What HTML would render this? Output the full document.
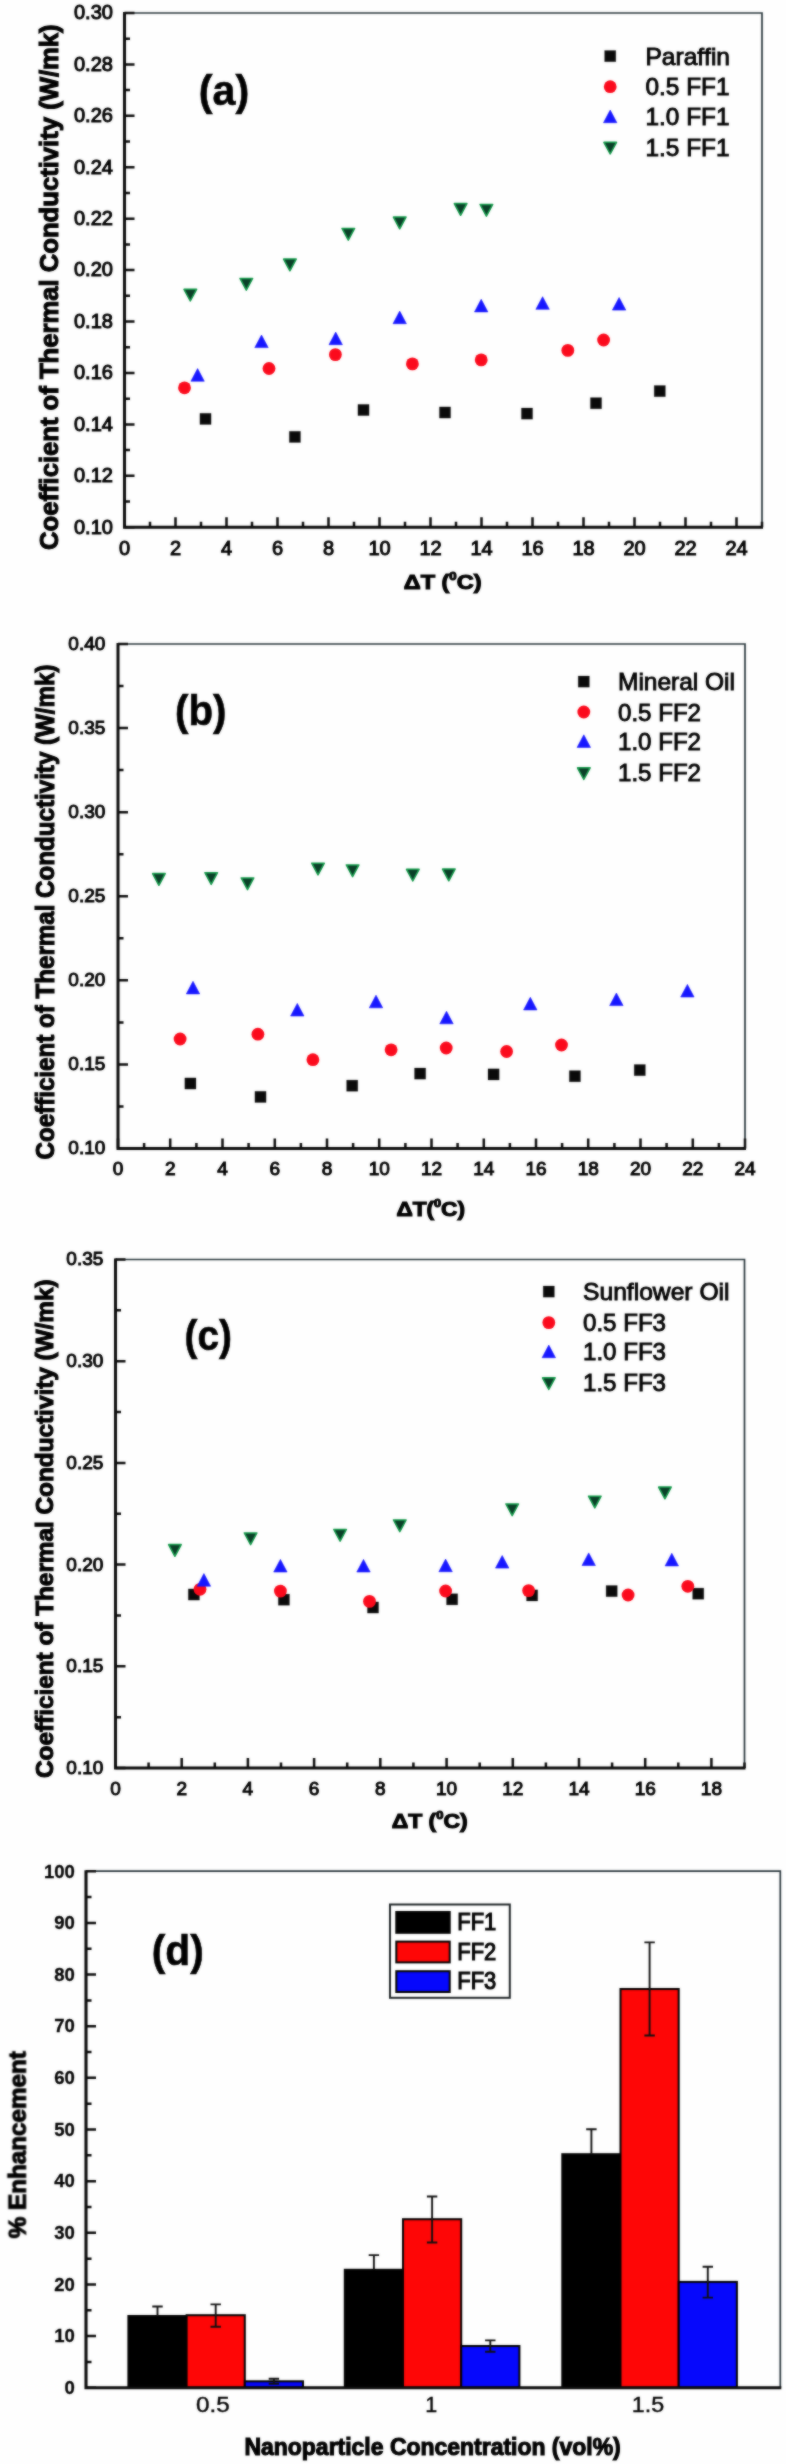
<!DOCTYPE html>
<html lang="en"><head><meta charset="utf-8"><title>Thermal conductivity figure</title>
<style>html,body{margin:0;padding:0;background:#fefefe}svg{display:block}text{font-kerning:none;font-variant-ligatures:none}</style></head>
<body>
<svg width="786" height="2464" viewBox="0 0 786 2464" font-family="Liberation Sans, sans-serif" fill="#000">
<defs><filter id="soft" x="0" y="0" width="786" height="2464" filterUnits="userSpaceOnUse" color-interpolation-filters="sRGB"><feGaussianBlur stdDeviation="0.8" result="b"/><feComposite in="SourceGraphic" in2="b" operator="arithmetic" k1="0" k2="0.45" k3="0.55" k4="0"/></filter></defs>
<rect width="786" height="2464" fill="#fefefe"/>
<g filter="url(#soft)">
<path d="M124.5,13 H762 V527.2" fill="none" stroke="#27343a" stroke-width="1.7"/>
<path d="M124.5,527.2 v-10 M150.0,527.2 v-5.5 M175.5,527.2 v-10 M201.0,527.2 v-5.5 M226.5,527.2 v-10 M252.0,527.2 v-5.5 M277.5,527.2 v-10 M303.0,527.2 v-5.5 M328.5,527.2 v-10 M354.0,527.2 v-5.5 M379.5,527.2 v-10 M405.0,527.2 v-5.5 M430.5,527.2 v-10 M456.0,527.2 v-5.5 M481.5,527.2 v-10 M507.0,527.2 v-5.5 M532.5,527.2 v-10 M558.0,527.2 v-5.5 M583.5,527.2 v-10 M609.0,527.2 v-5.5 M634.5,527.2 v-10 M660.0,527.2 v-5.5 M685.5,527.2 v-10 M711.0,527.2 v-5.5 M736.5,527.2 v-10 M762.0,527.2 v-5.5 M124.5,527.2 h10 M124.5,501.5 h5.5 M124.5,475.8 h10 M124.5,450.1 h5.5 M124.5,424.4 h10 M124.5,398.7 h5.5 M124.5,372.9 h10 M124.5,347.2 h5.5 M124.5,321.5 h10 M124.5,295.8 h5.5 M124.5,270.1 h10 M124.5,244.4 h5.5 M124.5,218.7 h10 M124.5,193.0 h5.5 M124.5,167.3 h10 M124.5,141.6 h5.5 M124.5,115.8 h10 M124.5,90.1 h5.5 M124.5,64.4 h10 M124.5,38.7 h5.5 M124.5,13.0 h10" fill="none" stroke="#0a0a0a" stroke-width="2.5"/>
<path d="M124.5,12 V527.2 H763" fill="none" stroke="#0a0a0a" stroke-width="3" stroke-linejoin="miter"/>
<text x="124.5" y="555.0" font-size="20" text-anchor="middle" stroke="#000" stroke-width="1.0">0</text>
<text x="175.5" y="555.0" font-size="20" text-anchor="middle" stroke="#000" stroke-width="1.0">2</text>
<text x="226.5" y="555.0" font-size="20" text-anchor="middle" stroke="#000" stroke-width="1.0">4</text>
<text x="277.5" y="555.0" font-size="20" text-anchor="middle" stroke="#000" stroke-width="1.0">6</text>
<text x="328.5" y="555.0" font-size="20" text-anchor="middle" stroke="#000" stroke-width="1.0">8</text>
<text x="379.5" y="555.0" font-size="20" text-anchor="middle" stroke="#000" stroke-width="1.0">10</text>
<text x="430.5" y="555.0" font-size="20" text-anchor="middle" stroke="#000" stroke-width="1.0">12</text>
<text x="481.5" y="555.0" font-size="20" text-anchor="middle" stroke="#000" stroke-width="1.0">14</text>
<text x="532.5" y="555.0" font-size="20" text-anchor="middle" stroke="#000" stroke-width="1.0">16</text>
<text x="583.5" y="555.0" font-size="20" text-anchor="middle" stroke="#000" stroke-width="1.0">18</text>
<text x="634.5" y="555.0" font-size="20" text-anchor="middle" stroke="#000" stroke-width="1.0">20</text>
<text x="685.5" y="555.0" font-size="20" text-anchor="middle" stroke="#000" stroke-width="1.0">22</text>
<text x="736.5" y="555.0" font-size="20" text-anchor="middle" stroke="#000" stroke-width="1.0">24</text>
<text x="112.9" y="533.5" font-size="20" text-anchor="end" stroke="#000" stroke-width="1.0">0.10</text>
<text x="112.9" y="482.1" font-size="20" text-anchor="end" stroke="#000" stroke-width="1.0">0.12</text>
<text x="112.9" y="430.7" font-size="20" text-anchor="end" stroke="#000" stroke-width="1.0">0.14</text>
<text x="112.9" y="379.2" font-size="20" text-anchor="end" stroke="#000" stroke-width="1.0">0.16</text>
<text x="112.9" y="327.8" font-size="20" text-anchor="end" stroke="#000" stroke-width="1.0">0.18</text>
<text x="112.9" y="276.4" font-size="20" text-anchor="end" stroke="#000" stroke-width="1.0">0.20</text>
<text x="112.9" y="225.0" font-size="20" text-anchor="end" stroke="#000" stroke-width="1.0">0.22</text>
<text x="112.9" y="173.6" font-size="20" text-anchor="end" stroke="#000" stroke-width="1.0">0.24</text>
<text x="112.9" y="122.1" font-size="20" text-anchor="end" stroke="#000" stroke-width="1.0">0.26</text>
<text x="112.9" y="70.7" font-size="20" text-anchor="end" stroke="#000" stroke-width="1.0">0.28</text>
<text x="112.9" y="19.3" font-size="20" text-anchor="end" stroke="#000" stroke-width="1.0">0.30</text>
<text x="403.8" y="588.7" font-size="20" font-weight="bold" stroke="#000" stroke-width="1.1" textLength="77.7" lengthAdjust="spacingAndGlyphs">ΔT (<tspan font-size="11.2" dy="-8.8">0</tspan><tspan dy="8.8">C)</tspan></text>
<text x="57.6" y="287.2" font-size="25.5" text-anchor="middle" font-weight="bold" textLength="525.6" lengthAdjust="spacingAndGlyphs" transform="rotate(-90 57.6 287.2)" stroke="#000" stroke-width="1.1">Coefficient of Thermal Conductivity (W/mk)</text>
<text x="198.8" y="105.0" font-size="42.5" text-anchor="start" font-weight="bold" textLength="50.5" lengthAdjust="spacingAndGlyphs" stroke="#000" stroke-width="0.6">(a)</text>
<rect x="604.6" y="50.5" width="11.2" height="11.2" fill="#0a0a0a" stroke="#0a0a0a" stroke-width="0.2" stroke-linejoin="round"/>
<text x="645.5" y="64.7" font-size="24" text-anchor="start" textLength="84.5" lengthAdjust="spacingAndGlyphs" stroke="#000" stroke-width="0.9">Paraffin</text>
<circle cx="610.2" cy="86.7" r="6.4" fill="#fb0a1c"/>
<text x="645.5" y="95.3" font-size="24" text-anchor="start" textLength="84.0" lengthAdjust="spacingAndGlyphs" stroke="#000" stroke-width="0.9">0.5 FF1</text>
<polygon points="603.5,122.7 616.9,122.7 610.2,110.1" fill="#1616ff" stroke="#1616ff" stroke-width="0.6" stroke-linejoin="round"/>
<text x="645.5" y="125.3" font-size="24" text-anchor="start" textLength="84.0" lengthAdjust="spacingAndGlyphs" stroke="#000" stroke-width="0.9">1.0 FF1</text>
<polygon points="603.9,142.3 616.5,142.3 610.2,154.0" fill="#0b3f28" stroke="#129a49" stroke-width="1.5" stroke-linejoin="round"/>
<text x="645.5" y="155.8" font-size="24" text-anchor="start" textLength="84.0" lengthAdjust="spacingAndGlyphs" stroke="#000" stroke-width="0.9">1.5 FF1</text>
<rect x="199.9" y="413.3" width="11.2" height="11.2" fill="#0a0a0a" stroke="#0a0a0a" stroke-width="0.2" stroke-linejoin="round"/>
<rect x="289.3" y="431.3" width="11.2" height="11.2" fill="#0a0a0a" stroke="#0a0a0a" stroke-width="0.2" stroke-linejoin="round"/>
<rect x="357.9" y="404.4" width="11.2" height="11.2" fill="#0a0a0a" stroke="#0a0a0a" stroke-width="0.2" stroke-linejoin="round"/>
<rect x="439.4" y="406.9" width="11.2" height="11.2" fill="#0a0a0a" stroke="#0a0a0a" stroke-width="0.2" stroke-linejoin="round"/>
<rect x="521.4" y="408.0" width="11.2" height="11.2" fill="#0a0a0a" stroke="#0a0a0a" stroke-width="0.2" stroke-linejoin="round"/>
<rect x="590.4" y="397.6" width="11.2" height="11.2" fill="#0a0a0a" stroke="#0a0a0a" stroke-width="0.2" stroke-linejoin="round"/>
<rect x="654.2" y="385.5" width="11.2" height="11.2" fill="#0a0a0a" stroke="#0a0a0a" stroke-width="0.2" stroke-linejoin="round"/>
<circle cx="184.5" cy="387.8" r="6.4" fill="#fb0a1c"/>
<circle cx="269.0" cy="368.5" r="6.4" fill="#fb0a1c"/>
<circle cx="335.4" cy="354.6" r="6.4" fill="#fb0a1c"/>
<circle cx="412.4" cy="363.9" r="6.4" fill="#fb0a1c"/>
<circle cx="481.2" cy="359.9" r="6.4" fill="#fb0a1c"/>
<circle cx="567.8" cy="350.4" r="6.4" fill="#fb0a1c"/>
<circle cx="603.6" cy="340.0" r="6.4" fill="#fb0a1c"/>
<polygon points="190.9,381.2 204.3,381.2 197.6,368.6" fill="#1616ff" stroke="#1616ff" stroke-width="0.6" stroke-linejoin="round"/>
<polygon points="254.8,347.6 268.2,347.6 261.5,335.0" fill="#1616ff" stroke="#1616ff" stroke-width="0.6" stroke-linejoin="round"/>
<polygon points="329.0,344.7 342.4,344.7 335.7,332.1" fill="#1616ff" stroke="#1616ff" stroke-width="0.6" stroke-linejoin="round"/>
<polygon points="393.0,323.7 406.4,323.7 399.7,311.1" fill="#1616ff" stroke="#1616ff" stroke-width="0.6" stroke-linejoin="round"/>
<polygon points="474.5,311.9 487.9,311.9 481.2,299.3" fill="#1616ff" stroke="#1616ff" stroke-width="0.6" stroke-linejoin="round"/>
<polygon points="535.9,309.3 549.3,309.3 542.6,296.7" fill="#1616ff" stroke="#1616ff" stroke-width="0.6" stroke-linejoin="round"/>
<polygon points="612.4,310.1 625.8,310.1 619.1,297.5" fill="#1616ff" stroke="#1616ff" stroke-width="0.6" stroke-linejoin="round"/>
<polygon points="184.0,289.3 196.6,289.3 190.3,301.0" fill="#0b3f28" stroke="#129a49" stroke-width="1.5" stroke-linejoin="round"/>
<polygon points="240.0,278.4 252.6,278.4 246.3,290.1" fill="#0b3f28" stroke="#129a49" stroke-width="1.5" stroke-linejoin="round"/>
<polygon points="283.6,259.1 296.2,259.1 289.9,270.8" fill="#0b3f28" stroke="#129a49" stroke-width="1.5" stroke-linejoin="round"/>
<polygon points="342.0,228.4 354.6,228.4 348.3,240.1" fill="#0b3f28" stroke="#129a49" stroke-width="1.5" stroke-linejoin="round"/>
<polygon points="393.4,217.1 406.0,217.1 399.7,228.8" fill="#0b3f28" stroke="#129a49" stroke-width="1.5" stroke-linejoin="round"/>
<polygon points="454.3,203.6 466.9,203.6 460.6,215.3" fill="#0b3f28" stroke="#129a49" stroke-width="1.5" stroke-linejoin="round"/>
<polygon points="480.1,204.5 492.7,204.5 486.4,216.2" fill="#0b3f28" stroke="#129a49" stroke-width="1.5" stroke-linejoin="round"/>
<path d="M118,644 H745 V1148.5" fill="none" stroke="#27343a" stroke-width="1.7"/>
<path d="M118.0,1148.5 v-10 M144.1,1148.5 v-5.5 M170.2,1148.5 v-10 M196.4,1148.5 v-5.5 M222.5,1148.5 v-10 M248.6,1148.5 v-5.5 M274.8,1148.5 v-10 M300.9,1148.5 v-5.5 M327.0,1148.5 v-10 M353.1,1148.5 v-5.5 M379.2,1148.5 v-10 M405.4,1148.5 v-5.5 M431.5,1148.5 v-10 M457.6,1148.5 v-5.5 M483.8,1148.5 v-10 M509.9,1148.5 v-5.5 M536.0,1148.5 v-10 M562.1,1148.5 v-5.5 M588.2,1148.5 v-10 M614.4,1148.5 v-5.5 M640.5,1148.5 v-10 M666.6,1148.5 v-5.5 M692.8,1148.5 v-10 M718.9,1148.5 v-5.5 M745.0,1148.5 v-10 M118,1148.5 h10 M118,1106.5 h5.5 M118,1064.4 h10 M118,1022.4 h5.5 M118,980.3 h10 M118,938.3 h5.5 M118,896.2 h10 M118,854.2 h5.5 M118,812.2 h10 M118,770.1 h5.5 M118,728.1 h10 M118,686.0 h5.5 M118,644.0 h10" fill="none" stroke="#0a0a0a" stroke-width="2.5"/>
<path d="M118,643 V1148.5 H746" fill="none" stroke="#0a0a0a" stroke-width="3" stroke-linejoin="miter"/>
<text x="118.0" y="1175.2" font-size="19" text-anchor="middle" stroke="#000" stroke-width="1.0">0</text>
<text x="170.2" y="1175.2" font-size="19" text-anchor="middle" stroke="#000" stroke-width="1.0">2</text>
<text x="222.5" y="1175.2" font-size="19" text-anchor="middle" stroke="#000" stroke-width="1.0">4</text>
<text x="274.8" y="1175.2" font-size="19" text-anchor="middle" stroke="#000" stroke-width="1.0">6</text>
<text x="327.0" y="1175.2" font-size="19" text-anchor="middle" stroke="#000" stroke-width="1.0">8</text>
<text x="379.2" y="1175.2" font-size="19" text-anchor="middle" stroke="#000" stroke-width="1.0">10</text>
<text x="431.5" y="1175.2" font-size="19" text-anchor="middle" stroke="#000" stroke-width="1.0">12</text>
<text x="483.8" y="1175.2" font-size="19" text-anchor="middle" stroke="#000" stroke-width="1.0">14</text>
<text x="536.0" y="1175.2" font-size="19" text-anchor="middle" stroke="#000" stroke-width="1.0">16</text>
<text x="588.2" y="1175.2" font-size="19" text-anchor="middle" stroke="#000" stroke-width="1.0">18</text>
<text x="640.5" y="1175.2" font-size="19" text-anchor="middle" stroke="#000" stroke-width="1.0">20</text>
<text x="692.8" y="1175.2" font-size="19" text-anchor="middle" stroke="#000" stroke-width="1.0">22</text>
<text x="745.0" y="1175.2" font-size="19" text-anchor="middle" stroke="#000" stroke-width="1.0">24</text>
<text x="105.3" y="1154.4" font-size="19" text-anchor="end" stroke="#000" stroke-width="1.0">0.10</text>
<text x="105.3" y="1070.4" font-size="19" text-anchor="end" stroke="#000" stroke-width="1.0">0.15</text>
<text x="105.3" y="986.3" font-size="19" text-anchor="end" stroke="#000" stroke-width="1.0">0.20</text>
<text x="105.3" y="902.2" font-size="19" text-anchor="end" stroke="#000" stroke-width="1.0">0.25</text>
<text x="105.3" y="818.1" font-size="19" text-anchor="end" stroke="#000" stroke-width="1.0">0.30</text>
<text x="105.3" y="734.0" font-size="19" text-anchor="end" stroke="#000" stroke-width="1.0">0.35</text>
<text x="105.3" y="649.9" font-size="19" text-anchor="end" stroke="#000" stroke-width="1.0">0.40</text>
<text x="396.4" y="1216.2" font-size="20" font-weight="bold" stroke="#000" stroke-width="1.1" textLength="68.6" lengthAdjust="spacingAndGlyphs">ΔT(<tspan font-size="11.2" dy="-8.8">0</tspan><tspan dy="8.8">C)</tspan></text>
<text x="54.2" y="912.0" font-size="25" text-anchor="middle" font-weight="bold" textLength="495.0" lengthAdjust="spacingAndGlyphs" transform="rotate(-90 54.2 912.0)" stroke="#000" stroke-width="1.1">Coefficient of Thermal Conductivity (W/mk)</text>
<text x="175.0" y="724.8" font-size="42.5" text-anchor="start" font-weight="bold" textLength="51.5" lengthAdjust="spacingAndGlyphs" stroke="#000" stroke-width="0.6">(b)</text>
<rect x="578.2" y="676.0" width="11.2" height="11.2" fill="#0a0a0a" stroke="#0a0a0a" stroke-width="0.2" stroke-linejoin="round"/>
<text x="618.0" y="690.2" font-size="24" text-anchor="start" textLength="117.0" lengthAdjust="spacingAndGlyphs" stroke="#000" stroke-width="0.9">Mineral Oil</text>
<circle cx="583.8" cy="712.0" r="6.4" fill="#fb0a1c"/>
<text x="618.0" y="720.6" font-size="24" text-anchor="start" textLength="83.0" lengthAdjust="spacingAndGlyphs" stroke="#000" stroke-width="0.9">0.5 FF2</text>
<polygon points="577.1,747.4 590.5,747.4 583.8,734.8" fill="#1616ff" stroke="#1616ff" stroke-width="0.6" stroke-linejoin="round"/>
<text x="618.0" y="750.0" font-size="24" text-anchor="start" textLength="83.0" lengthAdjust="spacingAndGlyphs" stroke="#000" stroke-width="0.9">1.0 FF2</text>
<polygon points="577.5,767.8 590.1,767.8 583.8,779.5" fill="#0b3f28" stroke="#129a49" stroke-width="1.5" stroke-linejoin="round"/>
<text x="618.0" y="781.3" font-size="24" text-anchor="start" textLength="83.0" lengthAdjust="spacingAndGlyphs" stroke="#000" stroke-width="0.9">1.5 FF2</text>
<rect x="184.8" y="1077.9" width="11.2" height="11.2" fill="#0a0a0a" stroke="#0a0a0a" stroke-width="0.2" stroke-linejoin="round"/>
<rect x="254.9" y="1091.3" width="11.2" height="11.2" fill="#0a0a0a" stroke="#0a0a0a" stroke-width="0.2" stroke-linejoin="round"/>
<rect x="346.6" y="1080.1" width="11.2" height="11.2" fill="#0a0a0a" stroke="#0a0a0a" stroke-width="0.2" stroke-linejoin="round"/>
<rect x="414.5" y="1068.0" width="11.2" height="11.2" fill="#0a0a0a" stroke="#0a0a0a" stroke-width="0.2" stroke-linejoin="round"/>
<rect x="488.0" y="1068.8" width="11.2" height="11.2" fill="#0a0a0a" stroke="#0a0a0a" stroke-width="0.2" stroke-linejoin="round"/>
<rect x="569.3" y="1070.6" width="11.2" height="11.2" fill="#0a0a0a" stroke="#0a0a0a" stroke-width="0.2" stroke-linejoin="round"/>
<rect x="634.2" y="1064.5" width="11.2" height="11.2" fill="#0a0a0a" stroke="#0a0a0a" stroke-width="0.2" stroke-linejoin="round"/>
<circle cx="180.1" cy="1039.0" r="6.4" fill="#fb0a1c"/>
<circle cx="257.9" cy="1034.2" r="6.4" fill="#fb0a1c"/>
<circle cx="312.9" cy="1059.7" r="6.4" fill="#fb0a1c"/>
<circle cx="391.1" cy="1049.8" r="6.4" fill="#fb0a1c"/>
<circle cx="446.2" cy="1048.0" r="6.4" fill="#fb0a1c"/>
<circle cx="506.6" cy="1051.5" r="6.4" fill="#fb0a1c"/>
<circle cx="561.5" cy="1045.0" r="6.4" fill="#fb0a1c"/>
<polygon points="186.3,993.9 199.7,993.9 193.0,981.3" fill="#1616ff" stroke="#1616ff" stroke-width="0.6" stroke-linejoin="round"/>
<polygon points="290.6,1016.0 304.0,1016.0 297.3,1003.4" fill="#1616ff" stroke="#1616ff" stroke-width="0.6" stroke-linejoin="round"/>
<polygon points="369.3,1007.8 382.7,1007.8 376.0,995.2" fill="#1616ff" stroke="#1616ff" stroke-width="0.6" stroke-linejoin="round"/>
<polygon points="439.8,1023.8 453.2,1023.8 446.5,1011.2" fill="#1616ff" stroke="#1616ff" stroke-width="0.6" stroke-linejoin="round"/>
<polygon points="523.6,1009.9 537.0,1009.9 530.3,997.3" fill="#1616ff" stroke="#1616ff" stroke-width="0.6" stroke-linejoin="round"/>
<polygon points="609.7,1005.6 623.1,1005.6 616.4,993.0" fill="#1616ff" stroke="#1616ff" stroke-width="0.6" stroke-linejoin="round"/>
<polygon points="680.7,997.0 694.1,997.0 687.4,984.4" fill="#1616ff" stroke="#1616ff" stroke-width="0.6" stroke-linejoin="round"/>
<polygon points="152.6,873.6 165.2,873.6 158.9,885.3" fill="#0b3f28" stroke="#129a49" stroke-width="1.5" stroke-linejoin="round"/>
<polygon points="204.9,872.7 217.5,872.7 211.2,884.4" fill="#0b3f28" stroke="#129a49" stroke-width="1.5" stroke-linejoin="round"/>
<polygon points="241.2,877.9 253.8,877.9 247.5,889.6" fill="#0b3f28" stroke="#129a49" stroke-width="1.5" stroke-linejoin="round"/>
<polygon points="311.7,863.2 324.3,863.2 318.0,874.9" fill="#0b3f28" stroke="#129a49" stroke-width="1.5" stroke-linejoin="round"/>
<polygon points="346.3,864.9 358.9,864.9 352.6,876.6" fill="#0b3f28" stroke="#129a49" stroke-width="1.5" stroke-linejoin="round"/>
<polygon points="406.5,869.3 419.1,869.3 412.8,881.0" fill="#0b3f28" stroke="#129a49" stroke-width="1.5" stroke-linejoin="round"/>
<polygon points="442.5,869.1 455.1,869.1 448.8,880.8" fill="#0b3f28" stroke="#129a49" stroke-width="1.5" stroke-linejoin="round"/>
<path d="M115.5,1259.5 H744.5 V1768" fill="none" stroke="#27343a" stroke-width="1.7"/>
<path d="M115.5,1768 v-10 M148.6,1768 v-5.5 M181.7,1768 v-10 M214.8,1768 v-5.5 M247.9,1768 v-10 M281.0,1768 v-5.5 M314.1,1768 v-10 M347.2,1768 v-5.5 M380.3,1768 v-10 M413.4,1768 v-5.5 M446.6,1768 v-10 M479.7,1768 v-5.5 M512.8,1768 v-10 M545.9,1768 v-5.5 M579.0,1768 v-10 M612.1,1768 v-5.5 M645.2,1768 v-10 M678.3,1768 v-5.5 M711.4,1768 v-10 M744.5,1768 v-5.5 M115.5,1768.0 h10 M115.5,1717.2 h5.5 M115.5,1666.3 h10 M115.5,1615.5 h5.5 M115.5,1564.6 h10 M115.5,1513.8 h5.5 M115.5,1462.9 h10 M115.5,1412.0 h5.5 M115.5,1361.2 h10 M115.5,1310.3 h5.5 M115.5,1259.5 h10" fill="none" stroke="#0a0a0a" stroke-width="2.5"/>
<path d="M115.5,1258.5 V1768 H745.5" fill="none" stroke="#0a0a0a" stroke-width="3" stroke-linejoin="miter"/>
<text x="115.5" y="1794.8" font-size="19" text-anchor="middle" stroke="#000" stroke-width="1.0">0</text>
<text x="181.7" y="1794.8" font-size="19" text-anchor="middle" stroke="#000" stroke-width="1.0">2</text>
<text x="247.9" y="1794.8" font-size="19" text-anchor="middle" stroke="#000" stroke-width="1.0">4</text>
<text x="314.1" y="1794.8" font-size="19" text-anchor="middle" stroke="#000" stroke-width="1.0">6</text>
<text x="380.3" y="1794.8" font-size="19" text-anchor="middle" stroke="#000" stroke-width="1.0">8</text>
<text x="446.6" y="1794.8" font-size="19" text-anchor="middle" stroke="#000" stroke-width="1.0">10</text>
<text x="512.8" y="1794.8" font-size="19" text-anchor="middle" stroke="#000" stroke-width="1.0">12</text>
<text x="579.0" y="1794.8" font-size="19" text-anchor="middle" stroke="#000" stroke-width="1.0">14</text>
<text x="645.2" y="1794.8" font-size="19" text-anchor="middle" stroke="#000" stroke-width="1.0">16</text>
<text x="711.4" y="1794.8" font-size="19" text-anchor="middle" stroke="#000" stroke-width="1.0">18</text>
<text x="103.3" y="1773.9" font-size="19" text-anchor="end" stroke="#000" stroke-width="1.0">0.10</text>
<text x="103.3" y="1672.2" font-size="19" text-anchor="end" stroke="#000" stroke-width="1.0">0.15</text>
<text x="103.3" y="1570.5" font-size="19" text-anchor="end" stroke="#000" stroke-width="1.0">0.20</text>
<text x="103.3" y="1468.8" font-size="19" text-anchor="end" stroke="#000" stroke-width="1.0">0.25</text>
<text x="103.3" y="1367.1" font-size="19" text-anchor="end" stroke="#000" stroke-width="1.0">0.30</text>
<text x="103.3" y="1265.4" font-size="19" text-anchor="end" stroke="#000" stroke-width="1.0">0.35</text>
<text x="391.7" y="1828.0" font-size="20" font-weight="bold" stroke="#000" stroke-width="1.1" textLength="76.0" lengthAdjust="spacingAndGlyphs">ΔT (<tspan font-size="11.2" dy="-8.8">0</tspan><tspan dy="8.8">C)</tspan></text>
<text x="52.6" y="1528.7" font-size="24.5" text-anchor="middle" font-weight="bold" textLength="498.6" lengthAdjust="spacingAndGlyphs" transform="rotate(-90 52.6 1528.7)" stroke="#000" stroke-width="1.1">Coefficient of Thermal Conductivity (W/mk)</text>
<text x="184.5" y="1350.4" font-size="42.5" text-anchor="start" font-weight="bold" textLength="47.5" lengthAdjust="spacingAndGlyphs" stroke="#000" stroke-width="0.6">(c)</text>
<rect x="543.2" y="1286.0" width="11.2" height="11.2" fill="#0a0a0a" stroke="#0a0a0a" stroke-width="0.2" stroke-linejoin="round"/>
<text x="583.0" y="1300.2" font-size="24" text-anchor="start" textLength="146.5" lengthAdjust="spacingAndGlyphs" stroke="#000" stroke-width="0.9">Sunflower Oil</text>
<circle cx="548.8" cy="1322.6" r="6.4" fill="#fb0a1c"/>
<text x="583.0" y="1331.2" font-size="24" text-anchor="start" textLength="83.0" lengthAdjust="spacingAndGlyphs" stroke="#000" stroke-width="0.9">0.5 FF3</text>
<polygon points="542.1,1357.7 555.5,1357.7 548.8,1345.1" fill="#1616ff" stroke="#1616ff" stroke-width="0.6" stroke-linejoin="round"/>
<text x="583.0" y="1360.3" font-size="24" text-anchor="start" textLength="83.0" lengthAdjust="spacingAndGlyphs" stroke="#000" stroke-width="0.9">1.0 FF3</text>
<polygon points="542.5,1377.8 555.1,1377.8 548.8,1389.5" fill="#0b3f28" stroke="#129a49" stroke-width="1.5" stroke-linejoin="round"/>
<text x="583.0" y="1391.3" font-size="24" text-anchor="start" textLength="83.0" lengthAdjust="spacingAndGlyphs" stroke="#000" stroke-width="0.9">1.5 FF3</text>
<rect x="188.3" y="1588.9" width="11.2" height="11.2" fill="#0a0a0a" stroke="#0a0a0a" stroke-width="0.2" stroke-linejoin="round"/>
<rect x="278.3" y="1594.1" width="11.2" height="11.2" fill="#0a0a0a" stroke="#0a0a0a" stroke-width="0.2" stroke-linejoin="round"/>
<rect x="367.4" y="1601.9" width="11.2" height="11.2" fill="#0a0a0a" stroke="#0a0a0a" stroke-width="0.2" stroke-linejoin="round"/>
<rect x="446.5" y="1593.7" width="11.2" height="11.2" fill="#0a0a0a" stroke="#0a0a0a" stroke-width="0.2" stroke-linejoin="round"/>
<rect x="526.5" y="1589.8" width="11.2" height="11.2" fill="#0a0a0a" stroke="#0a0a0a" stroke-width="0.2" stroke-linejoin="round"/>
<rect x="606.1" y="1585.5" width="11.2" height="11.2" fill="#0a0a0a" stroke="#0a0a0a" stroke-width="0.2" stroke-linejoin="round"/>
<rect x="692.6" y="1588.1" width="11.2" height="11.2" fill="#0a0a0a" stroke="#0a0a0a" stroke-width="0.2" stroke-linejoin="round"/>
<circle cx="200.0" cy="1589.3" r="6.4" fill="#fb0a1c"/>
<circle cx="280.4" cy="1591.1" r="6.4" fill="#fb0a1c"/>
<circle cx="369.5" cy="1601.4" r="6.4" fill="#fb0a1c"/>
<circle cx="445.6" cy="1591.0" r="6.4" fill="#fb0a1c"/>
<circle cx="528.6" cy="1590.6" r="6.4" fill="#fb0a1c"/>
<circle cx="628.1" cy="1595.0" r="6.4" fill="#fb0a1c"/>
<circle cx="687.8" cy="1586.3" r="6.4" fill="#fb0a1c"/>
<polygon points="197.2,1586.2 210.6,1586.2 203.9,1573.6" fill="#1616ff" stroke="#1616ff" stroke-width="0.6" stroke-linejoin="round"/>
<polygon points="273.7,1572.0 287.1,1572.0 280.4,1559.4" fill="#1616ff" stroke="#1616ff" stroke-width="0.6" stroke-linejoin="round"/>
<polygon points="356.8,1572.0 370.2,1572.0 363.5,1559.4" fill="#1616ff" stroke="#1616ff" stroke-width="0.6" stroke-linejoin="round"/>
<polygon points="438.9,1571.7 452.3,1571.7 445.6,1559.1" fill="#1616ff" stroke="#1616ff" stroke-width="0.6" stroke-linejoin="round"/>
<polygon points="495.5,1568.1 508.9,1568.1 502.2,1555.5" fill="#1616ff" stroke="#1616ff" stroke-width="0.6" stroke-linejoin="round"/>
<polygon points="582.0,1565.5 595.4,1565.5 588.7,1552.9" fill="#1616ff" stroke="#1616ff" stroke-width="0.6" stroke-linejoin="round"/>
<polygon points="665.1,1565.9 678.5,1565.9 671.8,1553.3" fill="#1616ff" stroke="#1616ff" stroke-width="0.6" stroke-linejoin="round"/>
<polygon points="168.6,1544.6 181.2,1544.6 174.9,1556.3" fill="#0b3f28" stroke="#129a49" stroke-width="1.5" stroke-linejoin="round"/>
<polygon points="244.3,1533.0 256.9,1533.0 250.6,1544.7" fill="#0b3f28" stroke="#129a49" stroke-width="1.5" stroke-linejoin="round"/>
<polygon points="333.8,1529.5 346.4,1529.5 340.1,1541.2" fill="#0b3f28" stroke="#129a49" stroke-width="1.5" stroke-linejoin="round"/>
<polygon points="393.5,1520.0 406.1,1520.0 399.8,1531.7" fill="#0b3f28" stroke="#129a49" stroke-width="1.5" stroke-linejoin="round"/>
<polygon points="505.9,1504.0 518.5,1504.0 512.2,1515.7" fill="#0b3f28" stroke="#129a49" stroke-width="1.5" stroke-linejoin="round"/>
<polygon points="588.5,1496.2 601.1,1496.2 594.8,1507.9" fill="#0b3f28" stroke="#129a49" stroke-width="1.5" stroke-linejoin="round"/>
<polygon points="658.6,1487.1 671.2,1487.1 664.9,1498.8" fill="#0b3f28" stroke="#129a49" stroke-width="1.5" stroke-linejoin="round"/>
<path d="M86,1871.2 H780.3 V2387.8" fill="none" stroke="#27343a" stroke-width="1.7"/>
<path d="M86,2387.8 h10 M86,2362.0 h5.5 M86,2336.1 h10 M86,2310.3 h5.5 M86,2284.5 h10 M86,2258.7 h5.5 M86,2232.8 h10 M86,2207.0 h5.5 M86,2181.2 h10 M86,2155.3 h5.5 M86,2129.5 h10 M86,2103.7 h5.5 M86,2077.8 h10 M86,2052.0 h5.5 M86,2026.2 h10 M86,2000.4 h5.5 M86,1974.5 h10 M86,1948.7 h5.5 M86,1922.9 h10 M86,1897.0 h5.5 M86,1871.2 h10" fill="none" stroke="#0a0a0a" stroke-width="2.5"/>
<rect x="128.4" y="2316.0" width="58.2" height="71.8" fill="#000000" stroke="#000" stroke-width="2"/>
<rect x="186.6" y="2315.2" width="58.2" height="72.6" fill="#fe0606" stroke="#000" stroke-width="2"/>
<rect x="244.8" y="2381.3" width="58.2" height="6.5" fill="#0608fc" stroke="#000" stroke-width="2"/>
<path d="M152.3,2306.5 h10.4 M157.5,2306.5 V2316.0" fill="none" stroke="#101010" stroke-width="1.9"/>
<path d="M210.5,2304.4 h10.4 M215.7,2304.4 V2326.8 M210.5,2326.8 h10.4" fill="none" stroke="#101010" stroke-width="1.9"/>
<path d="M268.7,2378.7 h10.4 M273.9,2378.7 V2383.8 M268.7,2383.8 h10.4" fill="none" stroke="#101010" stroke-width="1.9"/>
<rect x="344.8" y="2269.8" width="58.2" height="118.0" fill="#000000" stroke="#000" stroke-width="2"/>
<rect x="403.0" y="2219.2" width="58.2" height="168.6" fill="#fe0606" stroke="#000" stroke-width="2"/>
<rect x="461.2" y="2346.0" width="58.2" height="41.8" fill="#0608fc" stroke="#000" stroke-width="2"/>
<path d="M368.7,2255.1 h10.4 M373.9,2255.1 V2269.8" fill="none" stroke="#101010" stroke-width="1.9"/>
<path d="M426.9,2196.5 h10.4 M432.1,2196.5 V2242.5 M426.9,2242.5 h10.4" fill="none" stroke="#101010" stroke-width="1.9"/>
<path d="M485.1,2340.4 h10.4 M490.3,2340.4 V2351.7 M485.1,2351.7 h10.4" fill="none" stroke="#101010" stroke-width="1.9"/>
<rect x="562.3" y="2154.2" width="58.2" height="233.6" fill="#000000" stroke="#000" stroke-width="2"/>
<rect x="620.5" y="1989.0" width="58.2" height="398.8" fill="#fe0606" stroke="#000" stroke-width="2"/>
<rect x="678.7" y="2281.9" width="58.2" height="105.9" fill="#0608fc" stroke="#000" stroke-width="2"/>
<path d="M586.2,2129.2 h10.4 M591.4,2129.2 V2154.2" fill="none" stroke="#101010" stroke-width="1.9"/>
<path d="M644.4,1942.4 h10.4 M649.6,1942.4 V2035.5 M644.4,2035.5 h10.4" fill="none" stroke="#101010" stroke-width="1.9"/>
<path d="M702.6,2266.7 h10.4 M707.8,2266.7 V2297.6 M702.6,2297.6 h10.4" fill="none" stroke="#101010" stroke-width="1.9"/>
<path d="M86,1870.2 V2387.8 H781.3" fill="none" stroke="#0a0a0a" stroke-width="3.1"/>
<text x="74.8" y="2394.1" font-size="18.5" text-anchor="end" font-weight="bold" stroke="#000" stroke-width="0.3">0</text>
<text x="74.8" y="2342.4" font-size="18.5" text-anchor="end" font-weight="bold" stroke="#000" stroke-width="0.3">10</text>
<text x="74.8" y="2290.7" font-size="18.5" text-anchor="end" font-weight="bold" stroke="#000" stroke-width="0.3">20</text>
<text x="74.8" y="2239.1" font-size="18.5" text-anchor="end" font-weight="bold" stroke="#000" stroke-width="0.3">30</text>
<text x="74.8" y="2187.4" font-size="18.5" text-anchor="end" font-weight="bold" stroke="#000" stroke-width="0.3">40</text>
<text x="74.8" y="2135.8" font-size="18.5" text-anchor="end" font-weight="bold" stroke="#000" stroke-width="0.3">50</text>
<text x="74.8" y="2084.1" font-size="18.5" text-anchor="end" font-weight="bold" stroke="#000" stroke-width="0.3">60</text>
<text x="74.8" y="2032.4" font-size="18.5" text-anchor="end" font-weight="bold" stroke="#000" stroke-width="0.3">70</text>
<text x="74.8" y="1980.8" font-size="18.5" text-anchor="end" font-weight="bold" stroke="#000" stroke-width="0.3">80</text>
<text x="74.8" y="1929.1" font-size="18.5" text-anchor="end" font-weight="bold" stroke="#000" stroke-width="0.3">90</text>
<text x="74.8" y="1877.5" font-size="18.5" text-anchor="end" font-weight="bold" stroke="#000" stroke-width="0.3">100</text>
<text x="212.8" y="2412.2" font-size="21.5" text-anchor="middle" textLength="33.7" lengthAdjust="spacingAndGlyphs" stroke="#000" stroke-width="0.4">0.5</text>
<text x="431.3" y="2412.2" font-size="21.5" text-anchor="middle" stroke="#000" stroke-width="0.4">1</text>
<text x="648.0" y="2412.2" font-size="21.5" text-anchor="middle" textLength="32.4" lengthAdjust="spacingAndGlyphs" stroke="#000" stroke-width="0.4">1.5</text>
<text x="432.6" y="2455.1" font-size="23" text-anchor="middle" font-weight="bold" textLength="376.3" lengthAdjust="spacingAndGlyphs" stroke="#000" stroke-width="1.1">Nanoparticle Concentration (vol%)</text>
<text x="25.5" y="2144.8" font-size="23" text-anchor="middle" font-weight="bold" textLength="187.0" lengthAdjust="spacingAndGlyphs" transform="rotate(-90 25.5 2144.8)" stroke="#000" stroke-width="1.1">% Enhancement</text>
<text x="151.8" y="1964.8" font-size="42.5" text-anchor="start" font-weight="bold" textLength="52.0" lengthAdjust="spacingAndGlyphs" stroke="#000" stroke-width="0.6">(d)</text>
<rect x="390" y="1904.5" width="119.8" height="93.3" fill="#fff" stroke="#1e2426" stroke-width="2"/>
<rect x="396.3" y="1912.0" width="53.4" height="20.8" fill="#000000" stroke="#000" stroke-width="2"/>
<text x="457.3" y="1930.2" font-size="23.4" text-anchor="start" textLength="39.0" lengthAdjust="spacingAndGlyphs" stroke="#000" stroke-width="1.1">FF1</text>
<rect x="396.3" y="1941.6" width="53.4" height="20.8" fill="#fe0606" stroke="#000" stroke-width="2"/>
<text x="457.3" y="1959.8" font-size="23.4" text-anchor="start" textLength="39.0" lengthAdjust="spacingAndGlyphs" stroke="#000" stroke-width="1.1">FF2</text>
<rect x="396.3" y="1971.2" width="53.4" height="20.8" fill="#0608fc" stroke="#000" stroke-width="2"/>
<text x="457.3" y="1989.4" font-size="23.4" text-anchor="start" textLength="39.0" lengthAdjust="spacingAndGlyphs" stroke="#000" stroke-width="1.1">FF3</text>
</g>
</svg>
</body></html>
